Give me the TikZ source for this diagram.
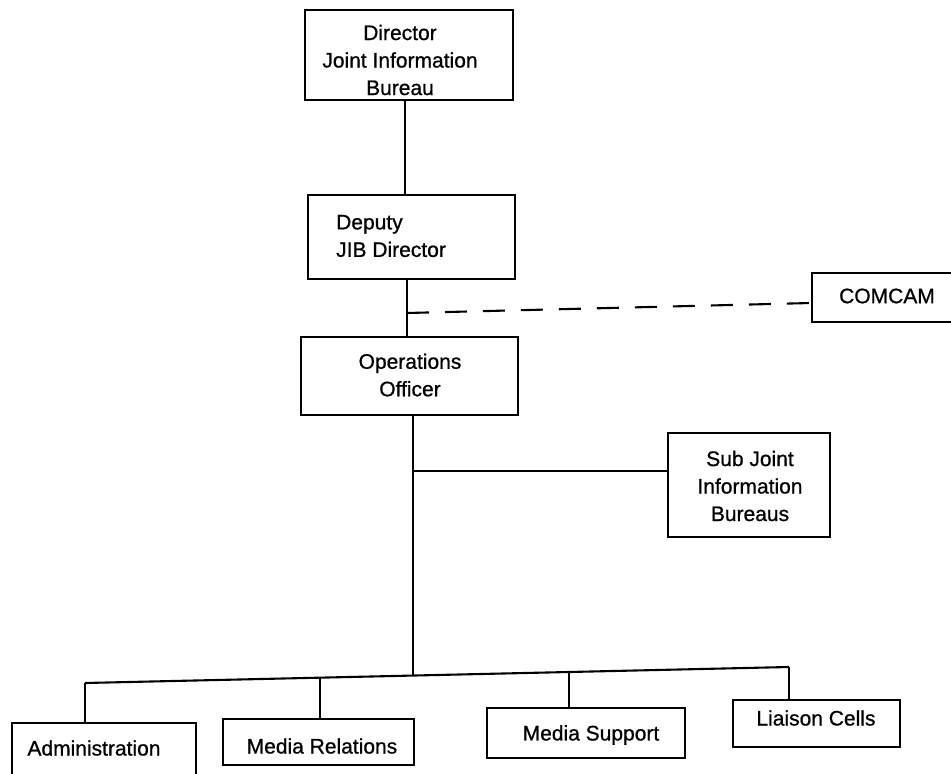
\documentclass[tikz,border=0pt]{standalone}
\usepackage{fontspec}
\setmainfont{Liberation Sans}
\newfontfamily\scanfont{Liberation Sans}[FakeBold=0.8]
\begin{document}
\begin{tikzpicture}[x=1pt,y=-1pt,
  box/.style={draw=black,line width=2.1pt,rectangle,inner sep=0pt},
  txt/.style={inner sep=0pt,font=\scanfont\fontsize{21}{27.5}\selectfont,align=center},
  link/.style={line width=2.1pt},
  dashline/.style={line width=2.1pt,dash pattern=on 22pt off 16pt}]
\useasboundingbox (0,0) rectangle (951,774);
\clip (0,0) rectangle (951,774);
% boxes
\node[box,minimum width=208pt,minimum height=90pt] (dir) at (409,55) {};
\node[box,minimum width=207pt,minimum height=84pt] (dep) at (411.5,237) {};
\node[box,minimum width=217pt,minimum height=78pt] (ops) at (409.5,376) {};
\node[box,minimum width=146pt,minimum height=49pt] (com) at (885,297.5) {};
\node[box,minimum width=162pt,minimum height=104pt] (sub) at (749,485) {};
\node[box,minimum width=184pt,minimum height=62pt] (adm) at (104,754) {};
\node[box,minimum width=191pt,minimum height=46pt] (mr) at (318.5,742) {};
\node[box,minimum width=198pt,minimum height=50pt] (ms) at (586,733) {};
\node[box,minimum width=167pt,minimum height=47pt] (lc) at (816.5,723.5) {};
% texts
\node[txt] (tdir) at (400,60) {Director\\Joint Information\\Bureau};
\node[txt,align=left,anchor=west] (tdep) at (336,236) {Deputy\\JIB Director};
\node[txt] (tops) at (410,375) {Operations\\Officer};
\node[txt] (tcom) at (887,296) {COMCAM};
\node[txt] (tsub) at (750,486) {Sub Joint\\Information\\Bureaus};
\node[txt] (tadm) at (94,748) {Administration};
\node[txt] (tmr) at (322,746) {Media Relations};
\node[txt] (tms) at (591,735) {Media Support};
\node[txt] (tlc) at (816,718) {Liaison Cells};
% coordinates
\coordinate (dj) at (407,313);
\coordinate (sj) at (412,471);
\coordinate (bAdm) at (85,683);
\coordinate (bMR) at (320,678);
\coordinate (bMain) at (413,675.5);
\coordinate (bMS) at (569,672);
\coordinate (bLC) at (789,667);
% connectors
\draw[link] (dir.south -| 405,0) -- (dep.north -| 405,0);
\draw[link] (dep.south -| 407,0) -- (ops.north -| 407,0);
\draw[dashline] (dj) -- (com.west |- 0,303);
\draw[link] (ops.south -| 413,0) -- (bMain);
\draw[link] (sj) -- (sub.west |- sj);
\draw[link] (bAdm) -- (bLC);
\draw[link] (bAdm) -- (bAdm |- adm.north);
\draw[link] (bMR) -- (bMR |- mr.north);
\draw[link] (bMS) -- (bMS |- ms.north);
\draw[link] (bLC) -- (bLC |- lc.north);
\end{tikzpicture}
\end{document}
